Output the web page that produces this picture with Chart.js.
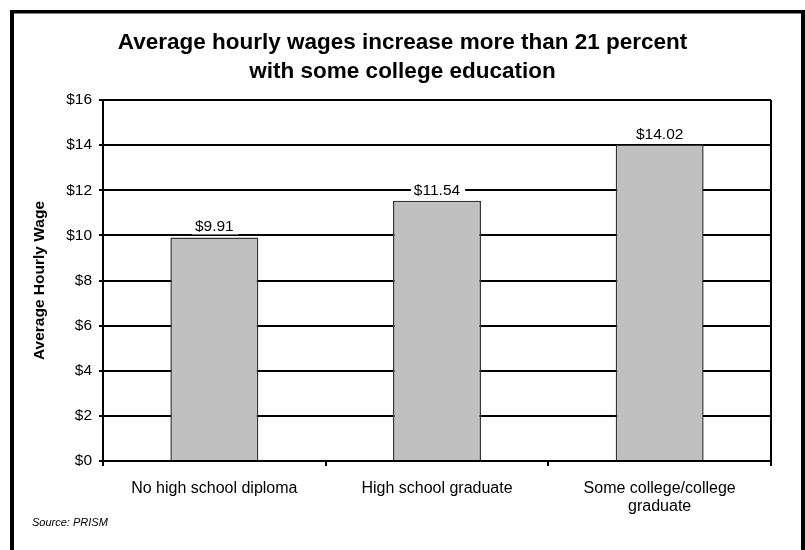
<!DOCTYPE html>
<html>
<head>
<meta charset="utf-8">
<script src="https://cdn.jsdelivr.net/npm/chart.js@4"></script>
<style>
  html, body { margin: 0; padding: 0; background: #fff; }
  canvas { display: block; }
</style>
</head>
<body>
<canvas id="wageChart" width="805" height="550"></canvas>
<script>
const categories = ['No high school diploma', 'High school graduate', ['Some college/college', 'graduate']];
const wages = [9.91, 11.54, 14.02];
const yTicks = { min: 0, max: 16, step: 2 };
const titleLines = ['Average hourly wages increase more than 21 percent', 'with some college education'];
const yTitle = 'Average Hourly Wage';
const sourceNote = 'Source: PRISM';

const FONT = "'Liberation Sans', Arial, sans-serif";

// value labels sitting on white boxes above each bar
const barLabels = {
  id: 'barLabels',
  afterDatasetsDraw(chart) {
    const ctx = chart.ctx;
    const meta = chart.getDatasetMeta(0);
    ctx.save();
    ctx.font = `15.5px ${FONT}`;
    ctx.textAlign = 'center';
    ctx.textBaseline = 'alphabetic';
    meta.data.forEach((bar, i) => {
      const txt = '$' + wages[i].toFixed(2);
      const w = ctx.measureText(txt).width;
      const base = bar.y - 6;
      ctx.fillStyle = '#fff';
      ctx.fillRect(bar.x - w / 2 - 3, base - 14, w + 8, 17);
      ctx.fillStyle = '#000';
      ctx.fillText(txt, bar.x, base);
    });
    ctx.restore();
  }
};

// plot frame, outer border and source note
const frame = {
  id: 'frame',
  beforeDatasetsDraw(chart) {
    const { ctx, chartArea: a } = chart;
    ctx.save();
    ctx.strokeStyle = '#000';
    ctx.lineWidth = 2;
    ctx.beginPath();
    ctx.moveTo(a.right, a.top);
    ctx.lineTo(a.right, a.bottom);
    ctx.stroke();
    ctx.restore();
  },
  afterDraw(chart) {
    const ctx = chart.ctx;
    ctx.save();
    ctx.fillStyle = '#000';
    ctx.fillRect(10, 10, 4, 560);
    ctx.fillRect(10, 10, 795, 3.5);
    ctx.fillRect(801, 10, 4, 560);
    ctx.font = `italic 11px ${FONT}`;
    ctx.textBaseline = 'middle';
    ctx.fillText(sourceNote, 32, 523);
    ctx.restore();
  }
};

new Chart(document.getElementById('wageChart'), {
  type: 'bar',
  data: {
    labels: categories,
    datasets: [{
      data: wages,
      backgroundColor: '#c0c0c0',
      borderColor: '#333',
      borderWidth: 1.5,
      barPercentage: 0.395,
      categoryPercentage: 1
    }]
  },
  options: {
    responsive: false,
    animation: false,
    devicePixelRatio: 1,
    layout: { padding: { left: 34, right: 34, top: 10, bottom: 34 } },
    plugins: {
      legend: { display: false },
      tooltip: { enabled: false },
      title: {
        display: true,
        text: titleLines,
        color: '#000',
        font: { family: FONT, size: 22.5, weight: 'bold', lineHeight: 1.258 },
        padding: { top: 19, bottom: 14.4 }
      }
    },
    scales: {
      x: {
        grid: { drawOnChartArea: false, drawTicks: true, tickLength: 5, color: '#000', lineWidth: 2 },
        border: { color: '#000', width: 2 },
        ticks: { color: '#000', padding: 13, font: { family: FONT, size: 16, lineHeight: 1.15 } },
        afterFit(scale) { scale.height = 55; }
      },
      y: {
        min: yTicks.min,
        max: yTicks.max,
        grid: { color: '#000', lineWidth: 2, tickLength: 4 },
        border: { color: '#000', width: 2 },
        ticks: {
          stepSize: yTicks.step,
          color: '#000',
          padding: 7,
          font: { family: FONT, size: 15.5 },
          callback: (v) => '$' + v
        },
        title: {
          display: true,
          text: yTitle,
          color: '#000',
          font: { family: FONT, size: 15.5, weight: 'bold', lineHeight: 1.2 },
          padding: { top: -4, bottom: 0 }
        },
        afterFit(scale) { scale.width = 69; }
      }
    }
  },
  plugins: [barLabels, frame]
});
</script>
</body>
</html>
